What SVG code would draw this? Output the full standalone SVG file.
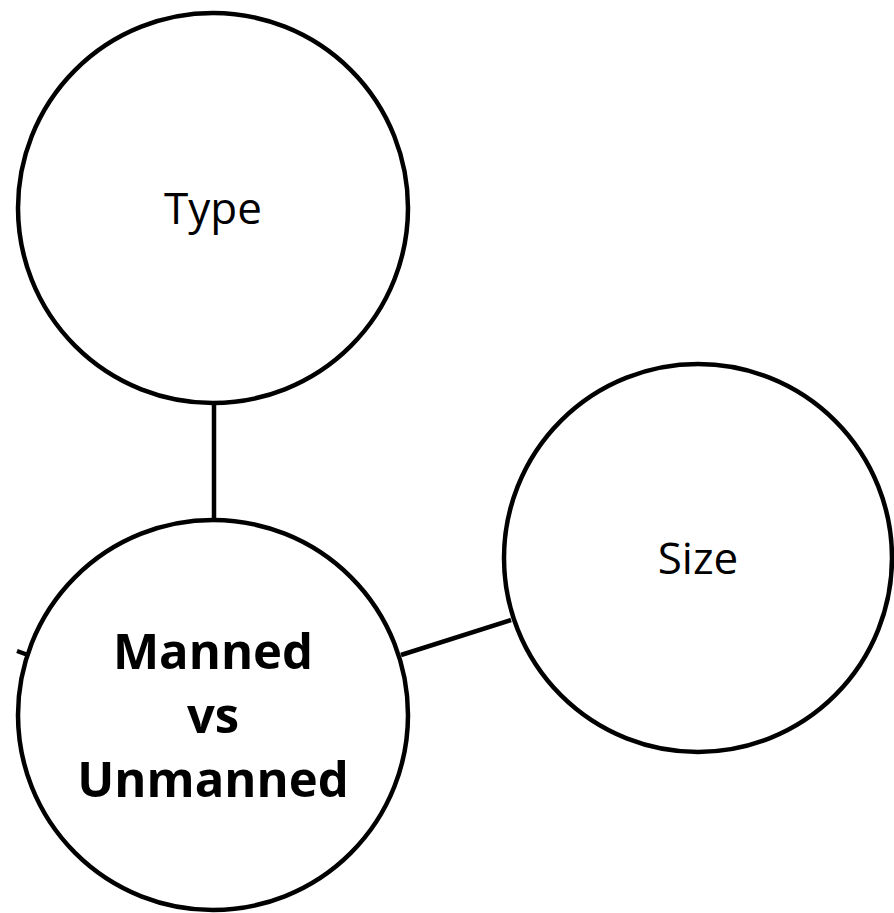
<svg xmlns="http://www.w3.org/2000/svg" width="894" height="913" viewBox="0 0 894 913">
<style>
.node{fill:#fff;stroke:#000;stroke-width:4.5}
.conn{stroke:#000;stroke-width:4.5;fill:none}
.lbl{font-family:"Open Sans","Noto Sans",sans-serif;font-size:44px;fill:#000;text-anchor:middle}
.bold{font-family:"Open Sans","Noto Sans",sans-serif;font-size:49px;font-weight:bold;fill:#000;text-anchor:middle}
</style>
<rect width="894" height="913" fill="#fff"/>
<g id="connectors">
<line class="conn" x1="214" y1="403" x2="214" y2="520"/>
<line class="conn" x1="401" y1="655" x2="511" y2="620"/>
<line class="conn" x1="17" y1="651" x2="28" y2="655"/>
</g>
<g id="node-type">
<circle class="node" cx="213" cy="208" r="195"/>
<text class="lbl" x="213" y="224">Type</text>
</g>
<g id="node-size">
<circle class="node" cx="698" cy="558" r="194"/>
<text class="lbl" x="698" y="574">Size</text>
</g>
<g id="node-manned">
<circle class="node" cx="213" cy="715" r="195"/>
<text class="bold" x="213" y="669">Manned</text>
<text class="bold" x="213" y="733">vs</text>
<text class="bold" x="213" y="797">Unmanned</text>
</g>
</svg>
